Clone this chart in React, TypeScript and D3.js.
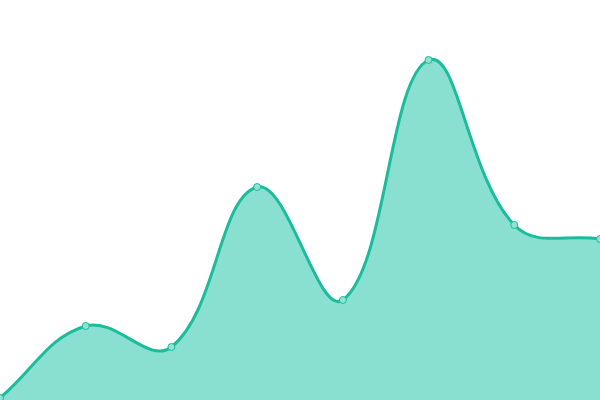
import { useEffect, useRef } from 'react';
import * as d3 from 'd3';

const categories = ['P1', 'P2', 'P3', 'P4', 'P5', 'P6', 'P7', 'P8'];
const values = [0.5, 18.5, 13.25, 53.25, 25, 85, 43.75, 40.25];
const yDomain = [0, 100];

const W = 600;
const H = 400;
const TENSION = 0.4;

type Pt = { x: number; y: number };

// Chart.js-like spline: control points weighted by neighbour distances
function splinePath(pts: Pt[], closeTo?: number) {
  const p = d3.path();
  const ctrl = pts.map((cur, i) => {
    const prev = pts[i - 1] ?? cur;
    const next = pts[i + 1] ?? cur;
    const d01 = Math.hypot(cur.x - prev.x, cur.y - prev.y);
    const d12 = Math.hypot(next.x - cur.x, next.y - cur.y);
    const s01 = d01 + d12 ? d01 / (d01 + d12) : 0;
    const s12 = d01 + d12 ? d12 / (d01 + d12) : 0;
    const fa = TENSION * s01;
    const fb = TENSION * s12;
    const clampX = (v: number) => Math.max(0, Math.min(W, v));
    const clampY = (v: number) => Math.max(0, Math.min(H, v));
    return {
      px: clampX(cur.x - fa * (next.x - prev.x)),
      py: clampY(cur.y - fa * (next.y - prev.y)),
      nx: clampX(cur.x + fb * (next.x - prev.x)),
      ny: clampY(cur.y + fb * (next.y - prev.y)),
    };
  });
  p.moveTo(pts[0].x, pts[0].y);
  for (let i = 1; i < pts.length; i++) {
    p.bezierCurveTo(ctrl[i - 1].nx, ctrl[i - 1].ny, ctrl[i].px, ctrl[i].py, pts[i].x, pts[i].y);
  }
  if (closeTo !== undefined) {
    p.lineTo(pts[pts.length - 1].x, closeTo);
    p.lineTo(pts[0].x, closeTo);
    p.closePath();
  }
  return p.toString();
}

export default function App() {
  const svgRef = useRef<SVGSVGElement>(null);

  useEffect(() => {
    if (!svgRef.current) return;
    const svg = d3.select(svgRef.current);
    svg.selectAll('*').remove();

    const x = d3.scalePoint<string>().domain(categories).range([0, W]);
    const y = d3.scaleLinear().domain(yDomain).range([H, 0]);

    const pts: Pt[] = values.map((v, i) => ({ x: x(categories[i])!, y: y(v) }));

    svg.append('path')
      .attr('d', splinePath(pts, y(yDomain[0])))
      .attr('fill', '#89e0d0')
      .attr('stroke', 'none');

    svg.append('path')
      .attr('d', splinePath(pts))
      .attr('fill', 'none')
      .attr('stroke', '#1abc9c')
      .attr('stroke-width', 3);

    svg.selectAll('.dot')
      .data(pts)
      .enter().append('circle')
      .attr('class', 'dot')
      .attr('cx', d => d.x)
      .attr('cy', d => d.y)
      .attr('r', 3.5)
      .attr('fill', '#8ee3d2')
      .attr('stroke', '#1abc9c')
      .attr('stroke-width', 1);
  }, []);

  return (
    <svg
      ref={svgRef}
      width={W}
      height={H}
      style={{ position: 'fixed', top: 0, left: 0, display: 'block', background: '#fff' }}
    />
  );
}
